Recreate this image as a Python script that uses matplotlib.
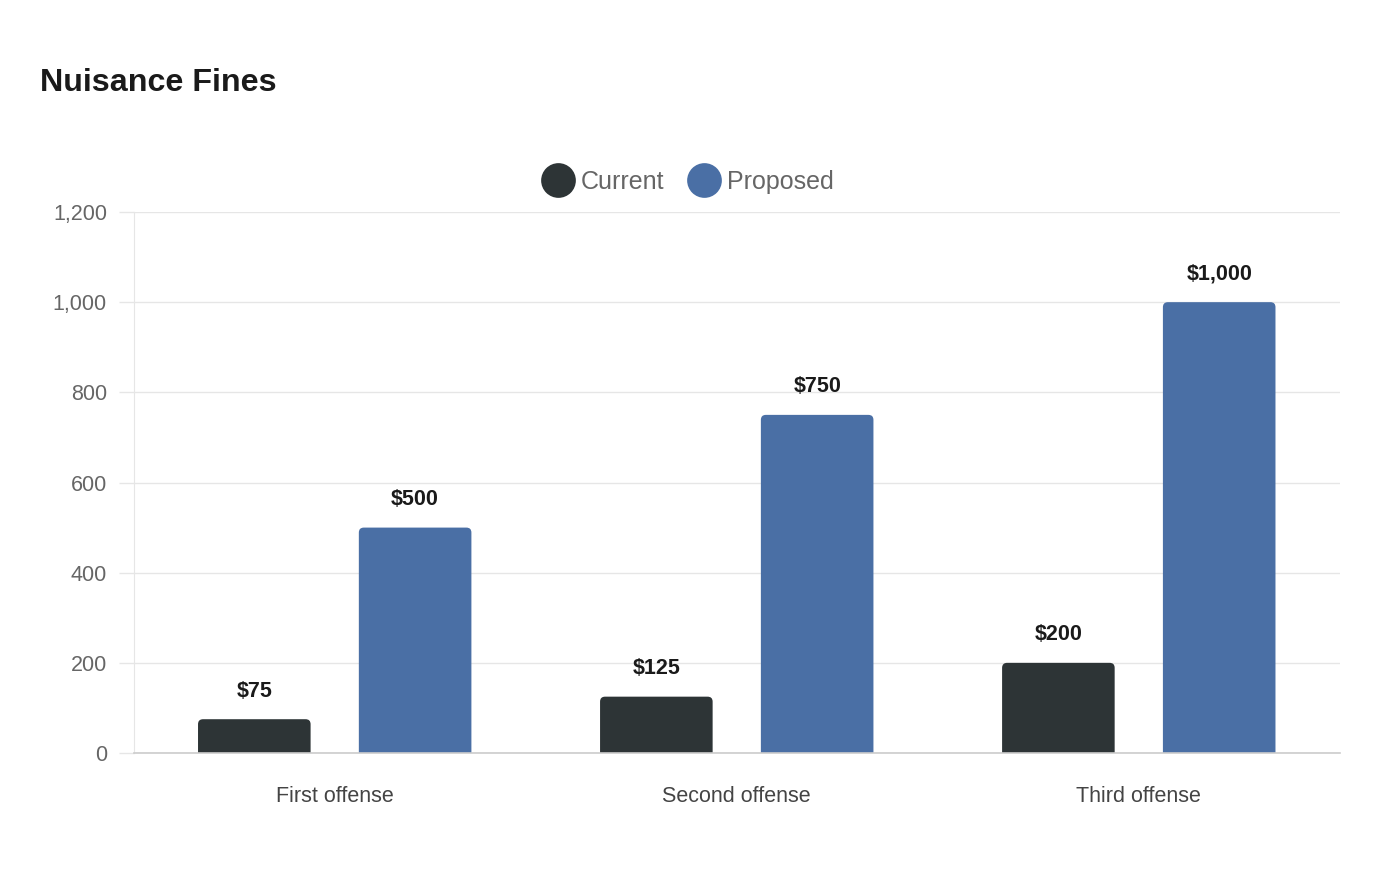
import matplotlib
matplotlib.use("Agg")
import matplotlib.pyplot as plt
from matplotlib.patches import FancyBboxPatch
from matplotlib.lines import Line2D
import numpy as np

# ============================ Data ======================
categories = ["First offense", "Second offense", "Third offense"]
current = [75, 125, 200]
proposed = [500, 750, 1000]
series_names = ["Current", "Proposed"]
y_ticks = [0, 200, 400, 600, 800, 1000, 1200]

plt.rcParams['font.family'] = ['Liberation Sans', 'DejaVu Sans']

COL_CUR = "#2d3436"
COL_PRO = "#4a6fa5"

# ============================ Layout ======================
fig = plt.figure(figsize=(14, 8.8), dpi=100)
ax = fig.add_axes([0.0955, 0.1443, 0.8615, 0.6148])

x = np.arange(len(categories))
width = 0.28
offset = 0.2

ax.set_xlim(-0.5, len(categories) - 0.5)
ax.set_ylim(0, 1200)

# rounding radius in pixels -> data units
px_x = 1.0 / 402.0
px_y = 1200.0 / 541.0
r_px = 5
rx = r_px * px_x
ry = r_px * px_y
aspect = px_y / px_x


def rounded_bar(xc, h, color):
    # start below zero so the bottom corners get clipped by the axes
    left = xc - width / 2
    ax.add_patch(FancyBboxPatch((left, -3 * ry), width, h + 3 * ry,
                                boxstyle=f"round,pad=0,rounding_size={rx}",
                                mutation_aspect=aspect,
                                facecolor=color, edgecolor="none", zorder=3))


for xi, c, p in zip(x, current, proposed):
    rounded_bar(xi - offset, c, COL_CUR)
    rounded_bar(xi + offset, p, COL_PRO)
    ax.text(xi - offset, c + 62, f"${c:,}", ha="center", va="center",
            fontsize=15.5, fontweight="bold", color="#1a1a1a")
    ax.text(xi + offset, p + 62, f"${p:,}", ha="center", va="center",
            fontsize=15.5, fontweight="bold", color="#1a1a1a")

# ============================ Axes styling ======================
ax.set_yticks(y_ticks)
ax.set_yticklabels([f"{v:,}" for v in y_ticks], fontsize=15.5, color="#666666")
ax.set_xticks(x)
ax.set_xticklabels(categories, fontsize=15.5, color="#444444")
ax.tick_params(axis="y", length=10.8, color="#e6e6e6", width=1, pad=8.5)
ax.tick_params(axis="x", length=0, pad=24)
ax.grid(axis="y", color="#e6e6e6", linewidth=1, zorder=0)
ax.set_axisbelow(True)

for s in ["top", "right"]:
    ax.spines[s].set_visible(False)
ax.spines["left"].set_color("#e6e6e6")
ax.spines["bottom"].set_color("#cccccc")
ax.spines["bottom"].set_linewidth(1.2)
ax.spines["bottom"].set_zorder(4)

# ============================ Title & Legend ======================
fig.text(40 / 1400, 1 - 83 / 880, "Nuisance Fines", fontsize=23.2,
         fontweight="bold", color="#1a1a1a", va="center", ha="left")

handles = [Line2D([0], [0], marker="o", linestyle="none", markersize=25,
                  markerfacecolor=col, markeredgecolor="none")
           for col in (COL_CUR, COL_PRO)]
leg = fig.legend(handles, series_names, loc="center",
                 bbox_to_anchor=(687 / 1400, 1 - 182 / 880), ncol=2,
                 frameon=False, fontsize=18, handletextpad=0.2,
                 columnspacing=0.9, handlelength=1.4)
for t in leg.get_texts():
    t.set_color("#666666")

fig.savefig("out.png", dpi=100, facecolor="white")
